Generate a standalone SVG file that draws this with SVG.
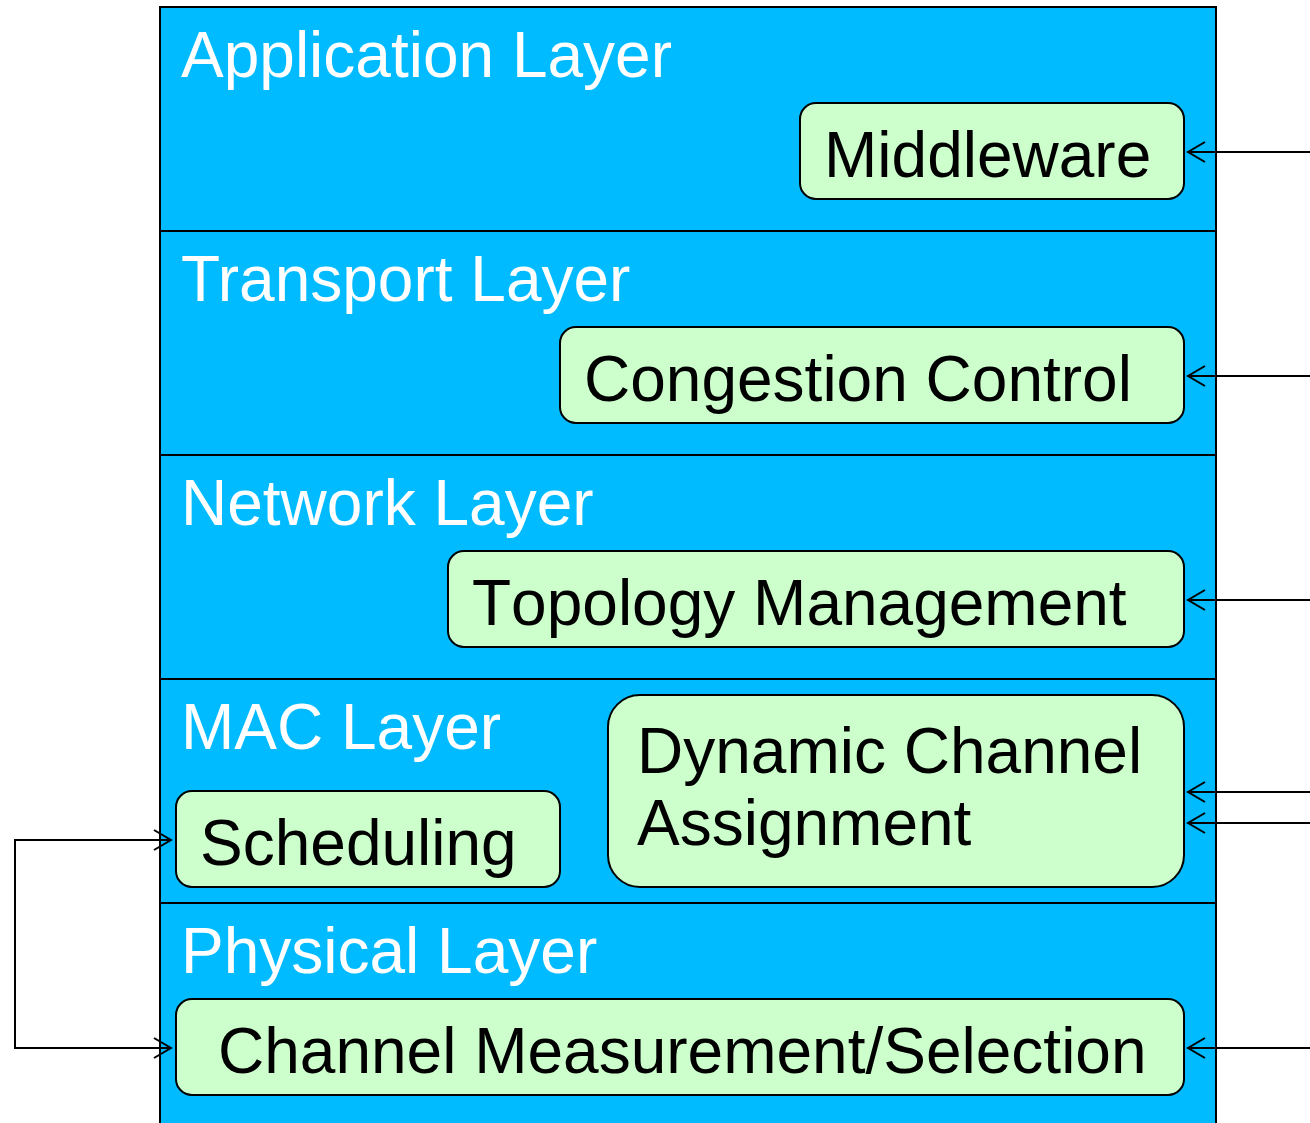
<svg xmlns="http://www.w3.org/2000/svg" width="1310" height="1123" viewBox="0 0 1310 1123">
  <defs>
    <!-- open "V" arrowhead; tip at the end of the line -->
    <marker id="open" markerWidth="22" markerHeight="24" refX="19" refY="12" orient="auto" markerUnits="userSpaceOnUse">
      <path d="M2,2 L19,12 L2,22" fill="none" stroke="#000" stroke-width="2"/>
    </marker>
  </defs>
  <style>
    .layer { fill: #00BBFF; stroke: #000; stroke-width: 2; }
    .box { fill: #CCFFCC; stroke: #000; stroke-width: 2; }
    .ltxt { font-family: "Liberation Sans", Arial, sans-serif; font-size: 64px; fill: #fff; }
    .btxt { font-family: "Liberation Sans", Arial, sans-serif; font-size: 64px; fill: #000; }
    .nokern { font-kerning: none; }
    .wire { fill: none; stroke: #000; stroke-width: 2; }
  </style>
  <rect width="1310" height="1123" fill="#fff"/>

  <!-- protocol layers -->
  <g id="application-layer">
    <rect class="layer" x="160" y="7" width="1056" height="224"/>
    <text class="ltxt" x="181" y="77">Application Layer</text>
  </g>
  <g id="transport-layer">
    <rect class="layer" x="160" y="231" width="1056" height="224"/>
    <text class="ltxt" x="181" y="301">Transport Layer</text>
  </g>
  <g id="network-layer">
    <rect class="layer" x="160" y="455" width="1056" height="224"/>
    <text class="ltxt" x="181" y="525">Network Layer</text>
  </g>
  <g id="mac-layer">
    <rect class="layer" x="160" y="679" width="1056" height="224"/>
    <text class="ltxt" x="181" y="749">MAC Layer</text>
  </g>
  <g id="physical-layer">
    <rect class="layer" x="160" y="903" width="1056" height="230"/>
    <text class="ltxt" x="181" y="973">Physical Layer</text>
  </g>

  <!-- functional blocks -->
  <g id="middleware">
    <rect class="box" x="800" y="103" width="384" height="96" rx="16"/>
    <text class="btxt" x="824" y="177">Middleware</text>
  </g>
  <g id="congestion-control">
    <rect class="box" x="560" y="327" width="624" height="96" rx="16"/>
    <text class="btxt" x="584" y="401">Congestion Control</text>
  </g>
  <g id="topology-management">
    <rect class="box" x="448" y="551" width="736" height="96" rx="16"/>
    <text class="btxt nokern" x="472" y="625">Topology Management</text>
  </g>
  <g id="dynamic-channel-assignment">
    <rect class="box" x="608" y="695" width="576" height="192" rx="32"/>
    <text class="btxt" x="637" y="773">Dynamic Channel</text>
    <text class="btxt" x="637" y="845">Assignment</text>
  </g>
  <g id="scheduling">
    <rect class="box" x="176" y="791" width="384" height="96" rx="16"/>
    <text class="btxt" x="200" y="865">Scheduling</text>
  </g>
  <g id="channel-measurement">
    <rect class="box" x="176" y="999" width="1008" height="96" rx="16"/>
    <text class="btxt" x="218" y="1073">Channel Measurement/Selection</text>
  </g>

  <!-- connectors -->
  <g id="connectors">
    <line class="wire" x1="1310" y1="152" x2="1188" y2="152" marker-end="url(#open)"/>
    <line class="wire" x1="1310" y1="376" x2="1188" y2="376" marker-end="url(#open)"/>
    <line class="wire" x1="1310" y1="600" x2="1188" y2="600" marker-end="url(#open)"/>
    <line class="wire" x1="1310" y1="792" x2="1188" y2="792" marker-end="url(#open)"/>
    <line class="wire" x1="1310" y1="823" x2="1188" y2="823" marker-end="url(#open)"/>
    <line class="wire" x1="1310" y1="1048" x2="1188" y2="1048" marker-end="url(#open)"/>
    <polyline class="wire" points="171,840 15,840 15,1048 171,1048" marker-end="url(#open)"/>
    <line class="wire" x1="150" y1="840" x2="171" y2="840" marker-end="url(#open)"/>
  </g>
</svg>
